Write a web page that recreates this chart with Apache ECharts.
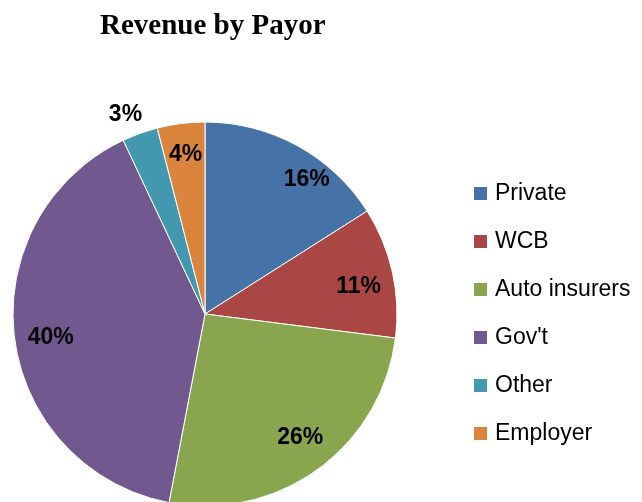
<!DOCTYPE html>
<html><head><meta charset="utf-8">
<script src="https://cdn.jsdelivr.net/npm/echarts@6/dist/echarts.min.js"></script>
<style>html,body{margin:0;padding:0;background:#fff}#c{width:642px;height:502px}</style>
</head><body><div id="c"></div>
<script>
var categories = ["Private", "WCB", "Auto insurers", "Gov't", "Other", "Employer"];
var values = [16, 11, 26, 40, 3, 4];
var colors = ["#4572A7", "#AA4643", "#89A54E", "#71588F", "#4198AF", "#DB843D"];
var labelOffsets = [[54, -48], [57, -6], [37, 44], [-56, 11], [-46, -106], [-7, -61]];

var chart = echarts.init(document.getElementById('c'), null, {renderer: 'canvas'});
chart.setOption({
  animation: false,
  title: {
    text: 'Revenue by Payor',
    left: 95, top: 7,
    textStyle: {fontFamily: 'Liberation Serif', fontWeight: 'bold', fontSize: 29, color: '#000'}
  },
  legend: {
    orient: 'vertical',
    left: 472, top: 182, padding: 0,
    itemWidth: 15, itemHeight: 15, itemGap: 25,
    icon: 'rect',
    textStyle: {fontFamily: 'Liberation Sans', fontSize: 23, color: '#000', padding: [0, 0, 0, 2]},
    data: categories
  },
  series: [{
    type: 'pie',
    center: [205, 314],
    radius: [0, 192],
    startAngle: 90,
    clockwise: true,
    label: {
      position: 'inside',
      formatter: '{d}%',
      fontFamily: 'Liberation Sans', fontWeight: 'bold', fontSize: 23, color: '#000'
    },
    labelLine: {show: false},
    itemStyle: {borderColor: '#fff', borderWidth: 1},
    emphasis: {disabled: true},
    data: categories.map(function (n, i) {
      return {name: n, value: values[i], itemStyle: {color: colors[i]}, label: {offset: labelOffsets[i]}};
    })
  }]
});
</script></body></html>
